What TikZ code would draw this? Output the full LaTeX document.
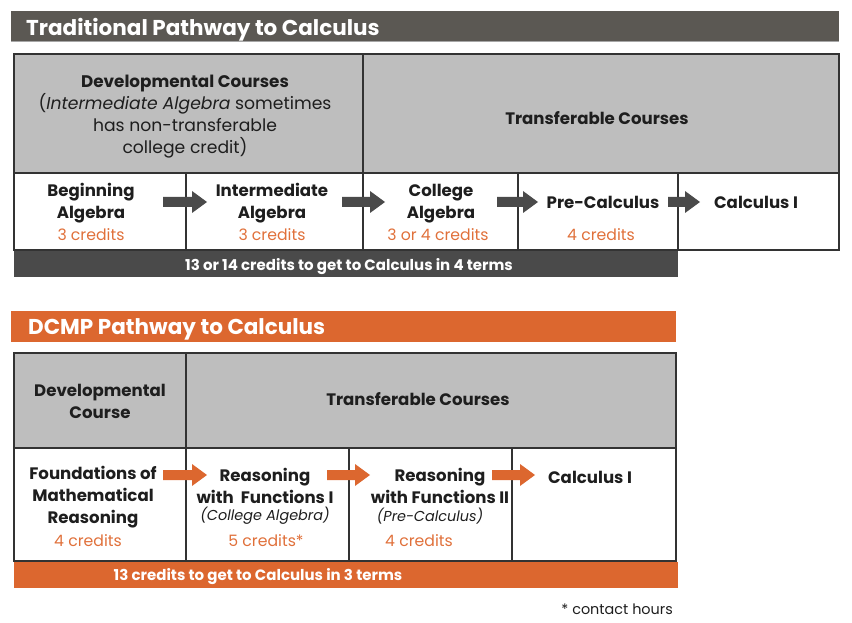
\documentclass[tikz,border=0pt]{standalone}
\usepackage{fontspec}
\setmainfont{Poppins}
\definecolor{titlegray}{HTML}{5B5853}
\definecolor{hdrgray}{HTML}{BEBEBE}
\definecolor{linegray}{HTML}{333333}
\definecolor{bargray}{HTML}{4A4A4A}
\definecolor{orng}{HTML}{DC672F}
\definecolor{credit}{HTML}{E0703A}
\definecolor{txt}{HTML}{1E1E1E}
\newcommand\blockarrow[4]{%
  \fill[#4] (#1,#3-5) -- (#2-15,#3-5) -- (#2-15,#3-11) -- (#2,#3) -- (#2-15,#3+11) -- (#2-15,#3+5) -- (#1,#3+5) -- cycle;}
\begin{document}
\begin{tikzpicture}[x=1pt,y=-1pt,
  tbl/.style={draw=linegray,line width=1.4pt},
  hdr/.style={fill=hdrgray},
  course/.style={align=center,text=txt,font=\bfseries\fontsize{16.6}{22}\selectfont,inner sep=0pt},
  cred/.style={text=credit,font=\fontsize{15.7}{20}\selectfont,inner sep=0pt},
  sub/.style={text=txt,font=\itshape\fontsize{14.4}{16}\selectfont,inner sep=0pt},
  title/.style={text=white,font=\bfseries\fontsize{21.5}{24}\selectfont,anchor=west,inner sep=0pt},
  bartext/.style={text=white,font=\bfseries\fontsize{15}{16}\selectfont,inner sep=0pt}]
\useasboundingbox (0,0) rectangle (852,623);

% ---------- Traditional ----------
\fill[titlegray] (11,11) rectangle (839,42);
\draw[gray!70,line width=1pt] (11,42) -- (839,42);
\node[title] (t1) at (26,29.5) {Traditional Pathway to Calculus};

\fill[hdr] (14,54) rectangle (839,173);
\draw[tbl] (14,54) rectangle (839,250);
\draw[tbl] (14,173) -- (839,173);
\draw[tbl] (363,54) -- (363,250);
\draw[tbl] (186,173) -- (186,250);
\draw[tbl] (518,173) -- (518,250);
\draw[tbl] (678,173) -- (678,250);

\node[align=center,text=txt,font=\fontsize{17.2}{22}\selectfont,inner sep=0pt] (dev1) at (185,117)
  {{\bfseries\fontsize{16.8}{22}\selectfont Developmental Courses}\\(\textit{Intermediate Algebra} sometimes\\has non-transferable\\college credit)};
\node[course] (tr1) at (597,118) {Transferable Courses};

\node[course] (ba) at (91,203) {Beginning\\Algebra};
\node[cred] (bac) at (91,235) {3 credits};
\node[course] (ia) at (272,203) {Intermediate\\Algebra};
\node[cred] (iac) at (272,235) {3 credits};
\node[course] (ca) at (441,203.5) {College\\Algebra};
\node[cred] (cac) at (438,235) {3 or 4 credits};
\node[course] (pc) at (603,202) {Pre-Calculus};
\node[cred] (pcc) at (601,235) {4 credits};
\node[course] (c1) at (756,202) {Calculus I};

\blockarrow{163}{207}{202}{bargray}
\blockarrow{342}{385}{202}{bargray}
\blockarrow{497}{538}{202}{bargray}
\blockarrow{668}{700}{202}{bargray}

\fill[bargray] (14,251) rectangle (678,277);
\node[bartext] (b1) at (349,266.5) {13 or 14 credits to get to Calculus in 4 terms};

% ---------- DCMP ----------
\fill[orng] (11,311) rectangle (676,342);
\node[title] (t2) at (28,329) {DCMP Pathway to Calculus};

\fill[hdr] (14,353) rectangle (676,448);
\draw[tbl] (14,353) rectangle (676,561);
\draw[tbl] (14,448) -- (676,448);
\draw[tbl] (186,353) -- (186,561);
\draw[tbl] (349,448) -- (349,561);
\draw[tbl] (512,448) -- (512,561);

\node[course] (dev2) at (100,401.5) {Developmental\\Course};
\node[course] (tr2) at (418,399) {Transferable Courses};

\node[course] (fm) at (93,497.5) {Foundations of\\Mathematical\\Reasoning};
\node[cred] (fmc) at (88,541) {4 credits};
\node[course] (rf1) at (265,486) {Reasoning\\with\ \ Functions I};
\node[sub] (rf1s) at (265,516) {(College Algebra)};
\node[cred] (rf1c) at (266,541) {5 credits*};
\node[course] (rf2) at (440,486) {Reasoning\\with Functions II};
\node[sub] (rf2s) at (430,516) {(Pre-Calculus)};
\node[cred] (rf2c) at (419,541) {4 credits};
\node[course] (c2) at (590,477) {Calculus I};

\blockarrow{163}{207}{475}{orng}
\blockarrow{327}{370}{475}{orng}
\blockarrow{492}{535}{475}{orng}

\fill[orng] (14,562) rectangle (678,588);
\node[bartext] (b2) at (258,576.5) {13 credits to get to Calculus in 3 terms};

\node[text=txt,font=\fontsize{14.4}{16}\selectfont,anchor=east,inner sep=0pt] (fn) at (673,609) {* contact hours};
\end{tikzpicture}
\end{document}
